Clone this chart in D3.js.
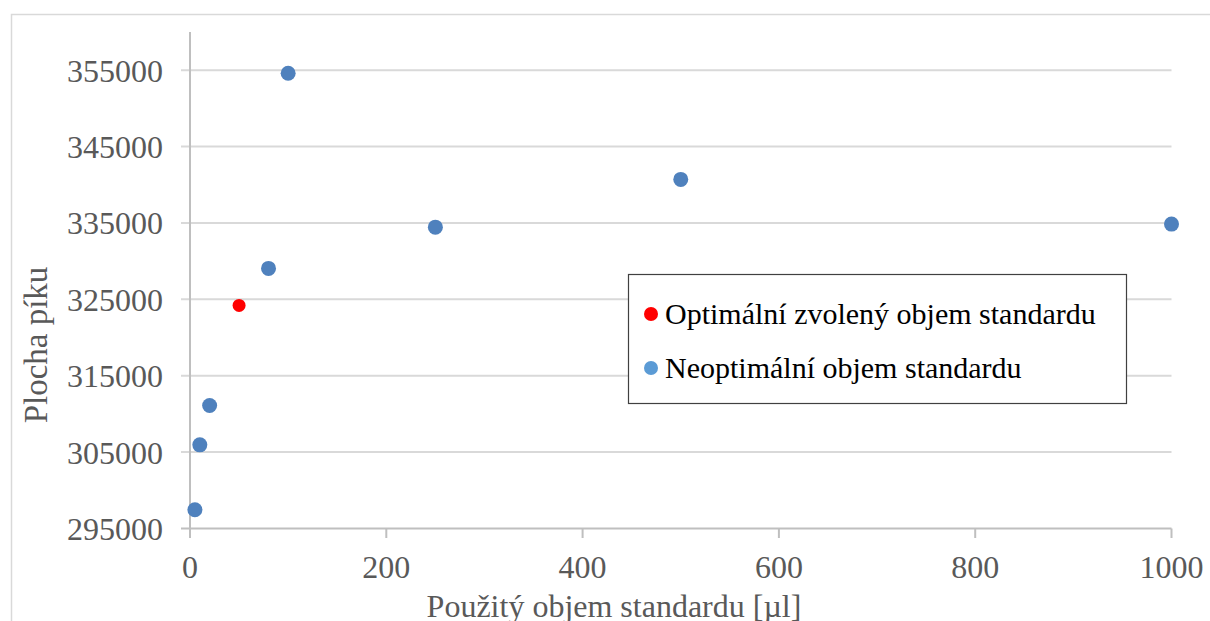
<!DOCTYPE html>
<html><head><meta charset="utf-8">
<script src="https://cdn.jsdelivr.net/npm/d3@7"></script>
<style>body{margin:0;background:#fff}svg{display:block}</style>
</head><body>
<svg id="c" width="1210" height="621"></svg>
<script>
const xVolumes = [5, 10, 20, 80, 100, 250, 500, 1000];
const yAreas = [297450, 305950, 311100, 329050, 354600, 334450, 340700, 334850];
const optimalX = [50];
const optimalY = [324200];
const xTicks = [0, 200, 400, 600, 800, 1000];
const yTicks = [295000, 305000, 315000, 325000, 335000, 345000, 355000];
const seriesNames = ["Optimální zvolený objem standardu", "Neoptimální objem standardu"];
const xTitle = "Použitý objem standardu [µl]";
const yTitle = "Plocha píku";

const svg = d3.select("#c");
const font = "'Liberation Serif', 'Times New Roman', serif";
// outer chart border
svg.append("rect").attr("x", 11.5).attr("y", 14.5).attr("width", 1220).attr("height", 640)
  .attr("fill", "#fff").attr("stroke", "#d9d9d9").attr("stroke-width", 1.5);

const x = d3.scaleLinear().domain([0, 1000]).range([190, 1171.5]);
const y = d3.scaleLinear().domain([295000, 360000]).range([528.5, 32]);

// gridlines + y ticks
svg.append("g").selectAll("line").data(yTicks).join("line")
  .attr("x1", 181).attr("x2", x(1000)).attr("y1", d => y(d)).attr("y2", d => y(d))
  .attr("stroke", d => d === 295000 ? "#bfbfbf" : "#d9d9d9").attr("stroke-width", 2);
// y axis line
svg.append("line").attr("x1", x(0)).attr("x2", x(0)).attr("y1", y(360000)).attr("y2", 538)
  .attr("stroke", "#bfbfbf").attr("stroke-width", 2);
// x ticks
svg.append("g").selectAll("line").data(xTicks).join("line")
  .attr("x1", d => x(d)).attr("x2", d => x(d)).attr("y1", y(295000)).attr("y2", 538)
  .attr("stroke", "#bfbfbf").attr("stroke-width", 2);

// tick labels
svg.append("g").selectAll("text").data(yTicks).join("text")
  .attr("x", 163).attr("y", d => y(d) + 11.5).attr("text-anchor", "end")
  .attr("font-family", font).attr("font-size", 32).attr("fill", "#595959")
  .text(d => d3.format("d")(d));
svg.append("g").selectAll("text").data(xTicks).join("text")
  .attr("x", d => x(d)).attr("y", 578).attr("text-anchor", "middle")
  .attr("font-family", font).attr("font-size", 32).attr("fill", "#595959")
  .text(d => d);

// axis titles
svg.append("text").attr("x", 614).attr("y", 617).attr("text-anchor", "middle")
  .attr("font-family", font).attr("font-size", 32).attr("fill", "#595959").text(xTitle);
svg.append("text").attr("transform", "translate(47,345) rotate(-90)").attr("text-anchor", "middle")
  .attr("font-family", font).attr("font-size", 33).attr("fill", "#595959").text(yTitle);

// points
const pts = xVolumes.map((v, i) => ({x: v, y: yAreas[i]}));
svg.append("g").selectAll("circle").data(pts).join("circle")
  .attr("cx", d => x(d.x)).attr("cy", d => y(d.y)).attr("r", 7.5).attr("fill", "#4f81bd");
const opt = optimalX.map((v, i) => ({x: v, y: optimalY[i]}));
svg.append("g").selectAll("circle").data(opt).join("circle")
  .attr("cx", d => x(d.x)).attr("cy", d => y(d.y)).attr("r", 6.5).attr("fill", "#ff0000");

// legend
const lg = svg.append("g");
lg.append("rect").attr("x", 628.5).attr("y", 274.5).attr("width", 498).attr("height", 129)
  .attr("fill", "#fff").attr("stroke", "#404040").attr("stroke-width", 1.2);
const legColors = ["#ff0000", "#5b9bd5"];
const legY = [314, 368];
seriesNames.forEach((n, i) => {
  lg.append("circle").attr("cx", 651).attr("cy", legY[i]).attr("r", 7).attr("fill", legColors[i]);
  lg.append("text").attr("x", 665).attr("y", legY[i] + 10).attr("font-family", font)
    .attr("font-size", 30).attr("fill", "#000").text(n);
});
</script>
</body></html>
